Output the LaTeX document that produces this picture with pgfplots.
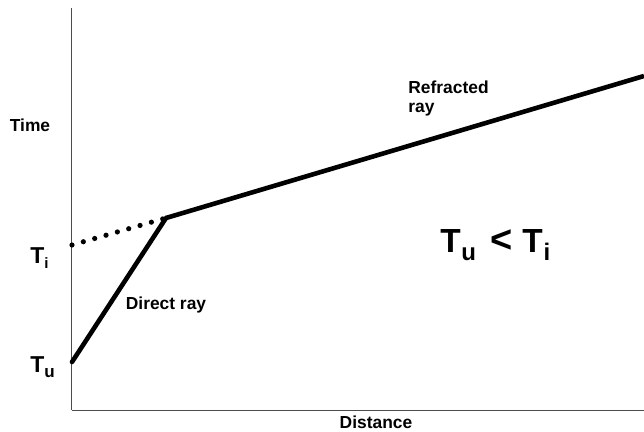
\documentclass[border=0pt]{standalone}
\usepackage{fontspec}
\setmainfont{Liberation Sans}
\usepackage{pgfplots}
\pgfplotsset{compat=1.18}

% one reference pixel = 0.5pt
\newcommand{\lbl}{\fontsize{8.7}{9.5}\selectfont\bfseries}

\begin{document}
\begin{tikzpicture}
  \begin{axis}[
      scale only axis,
      width=286pt, height=201pt,
      xmin=0, xmax=572, ymin=0, ymax=402,
      axis x line*=bottom, axis y line*=left,
      axis line style={gray!60!black, line width=0.5pt},
      ticks=none,
      clip=false]
    % direct ray
    \addplot[black, line width=2.3pt, line cap=round] coordinates {(0,48) (94,192)};
    % refracted ray
    \addplot[black, line width=2.3pt, line cap=butt] coordinates {(94,192) (572,334)};
    % extrapolated intercept
    \addplot[black, line width=2.6pt, line cap=round, dash pattern=on 0pt off 5.9pt]
      coordinates {(0,165) (94,192)};

    \node[font=\lbl] at (axis cs:-42,285) {Time};
    \node[font=\lbl] at (axis cs:304,-12) {Distance};
    \node[font=\lbl] at (axis cs:94,105) {Direct ray};
    \node[font=\lbl, align=left, anchor=west, inner sep=0pt] at (axis cs:336,311) {Refracted\\ray};

    \node[anchor=base west, inner sep=0pt, font=\fontsize{11.5}{12}\selectfont\bfseries]
      at (axis cs:-42,147) {T\raisebox{-2.5pt}{\fontsize{7.5}{8}\selectfont i}};
    \node[anchor=base west, inner sep=0pt, font=\fontsize{11.5}{12}\selectfont\bfseries]
      at (axis cs:-42,38) {T\raisebox{-2.5pt}{\fontsize{8.5}{9}\selectfont u}};
    \node[anchor=base west, inner sep=0pt, font=\fontsize{16.7}{17}\selectfont\bfseries]
      at (axis cs:368,158) {T\kern0.3pt\raisebox{-4pt}{\fontsize{12}{12}\selectfont u}\kern7pt%
        {\fontsize{19}{19}\selectfont<}\kern5pt T\kern0.5pt\raisebox{-4pt}{\fontsize{12}{12}\selectfont i}};

    \coordinate (bl) at (axis cs:-72,-21);
    \coordinate (tr) at (axis cs:572,410);
  \end{axis}
  \pgfresetboundingbox
  \path[use as bounding box] (bl) rectangle (tr);
\end{tikzpicture}
\end{document}
